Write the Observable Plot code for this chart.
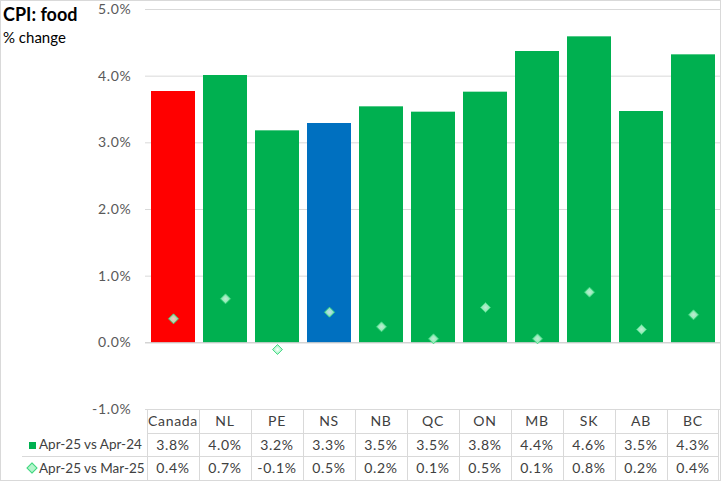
<!DOCTYPE html>
<html><head><meta charset="utf-8">
<script src="https://cdn.jsdelivr.net/npm/d3@7"></script>
<script src="https://cdn.jsdelivr.net/npm/@observablehq/plot@0.6"></script>
<style>
body{margin:0;background:#fff;}
#wrap{position:relative;width:721px;height:481px;overflow:hidden;font-family:Lato,"Open Sans",sans-serif;color:#404040;background:#fff;}
#frame{position:absolute;left:0;top:0;width:719px;height:479px;border:1px solid #d9d9d9;pointer-events:none;}
#title{position:absolute;left:3px;top:3px;font-size:18px;font-weight:bold;color:#000;}
#sub{position:absolute;left:3px;top:28px;font-size:15px;color:#000;}
#chart{position:absolute;left:0;top:0;}
.cell{position:absolute;text-align:center;font-size:14px;letter-spacing:0.7px;color:#404040;white-space:nowrap;}
.leg{letter-spacing:0;font-size:13.5px;}
.vl{position:absolute;width:1px;background:#d9d9d9;}
.hl{position:absolute;height:1px;background:#d9d9d9;}
</style></head>
<body><div id="wrap"><div id="chart"></div><div id="title">CPI: food</div><div id="sub">% change</div><div id="frame"></div></div>
<script>
const categories = ["Canada","NL","PE","NS","NB","QC","ON","MB","SK","AB","BC"];
const yoy = [3.77,4.01,3.18,3.29,3.54,3.46,3.76,4.37,4.59,3.47,4.32];
const mom = [0.36,0.66,-0.10,0.46,0.24,0.06,0.53,0.06,0.76,0.20,0.42];
const barColors = ["#FF0000","#00B050","#00B050","#0070C0","#00B050","#00B050","#00B050","#00B050","#00B050","#00B050","#00B050"];
const yTicks = [-1,0,1,2,3,4,5];
const seriesNames = ["Apr-25 vs Apr-24","Apr-25 vs Mar-25"];

const data = categories.map((c,i)=>({cat:c, yoy:yoy[i], mom:mom[i], color:barColors[i]}));
const fmt = d => d.toFixed(1) + "%";

const plot = Plot.plot({
  width:721, height:415, marginLeft:145, marginRight:1, marginTop:9, marginBottom:6,
  style:{fontFamily:"Lato, 'Open Sans', sans-serif", fontSize:"14px", letterSpacing:"0.7px", color:"#595959", background:"transparent", overflow:"visible"},
  x:{domain:categories, paddingInner:0.16, paddingOuter:0.08, axis:null},
  y:{domain:[-1,5], ticks:yTicks, tickFormat:fmt, tickSize:0, tickPadding:14, label:null},
  color:{type:"identity"},
  marks:[
    Plot.ruleY(yTicks.filter(d=>d!==0), {stroke:"#d9d9d9", strokeOpacity:1}),
    Plot.barY(data, {x:"cat", y:"yoy", fill:"color"}),
    Plot.ruleY([0], {stroke:"#bfbfbf", strokeOpacity:1}),
    Plot.dot(data, {x:"cat", y:"mom", symbol:"diamond2", r:4.5, fill:"url(#dg)", stroke:"#3fd67f", strokeOpacity:0.9, strokeWidth:1})
  ]
});
const svgNS = "http://www.w3.org/2000/svg";
const defs = document.createElementNS(svgNS, "defs");
defs.innerHTML = '<radialGradient id="dg" cx="50%" cy="50%" r="60%">' +
  '<stop offset="0%" stop-color="#ffffff" stop-opacity="0.75"/>' +
  '<stop offset="100%" stop-color="#5fec98" stop-opacity="0.95"/></radialGradient>';
plot.insertBefore(defs, plot.firstChild);
document.getElementById("chart").appendChild(plot);

const xs = plot.scale("x");
const ys = plot.scale("y");
const step = xs.step, bw = xs.bandwidth;
const wrap = document.getElementById("wrap");
const top0 = ys.apply(-1);
const rowH = [24, 23, 24.5];
const rowTop = [top0, top0 + rowH[0], top0 + rowH[0] + rowH[1]];
const tableBottom = rowTop[2] + rowH[2];
const colLeft = c => xs.apply(c) - (step - bw) / 2;
const right = colLeft(categories[categories.length-1]) + step;

function add(cls, style, text){
  const d = document.createElement("div"); d.className = cls;
  Object.assign(d.style, style); if (text != null) d.textContent = text;
  wrap.appendChild(d); return d;
}
categories.forEach(c => add("vl", {left:colLeft(c)+"px", top:top0+"px", height:(tableBottom-top0)+"px"}));
add("vl", {left:(right-1)+"px", top:top0+"px", height:(tableBottom-top0)+"px"});
add("hl", {left:colLeft(categories[0])+"px", top:rowTop[1]+"px", width:(right-colLeft(categories[0]))+"px"});
add("hl", {left:"22px", top:rowTop[2]+"px", width:(right-22)+"px"});

const rows = [categories, yoy.map(fmt), mom.map(fmt)];
rows.forEach((r, ri) => {
  categories.forEach((c, ci) => {
    add("cell", {left:colLeft(c)+"px", width:step+"px", top:rowTop[ri]+"px", height:rowH[ri]+"px", lineHeight:rowH[ri]+"px"}, r[ci]);
  });
});
add("cell", {left:"29px", top:(rowTop[1]+9)+"px", width:"7px", height:"7px", background:"#00B050"});
add("cell leg", {left:"39px", top:rowTop[1]+"px", height:rowH[1]+"px", lineHeight:rowH[1]+"px", textAlign:"left"}, seriesNames[0]);
add("cell", {left:"28px", top:(rowTop[2]+8)+"px", width:"6px", height:"6px", background:"#b4f5cc", border:"1px solid #3fd67f", transform:"rotate(45deg)"});
add("cell leg", {left:"39px", top:rowTop[2]+"px", height:rowH[2]+"px", lineHeight:rowH[2]+"px", textAlign:"left"}, seriesNames[1]);
</script>
</body></html>
